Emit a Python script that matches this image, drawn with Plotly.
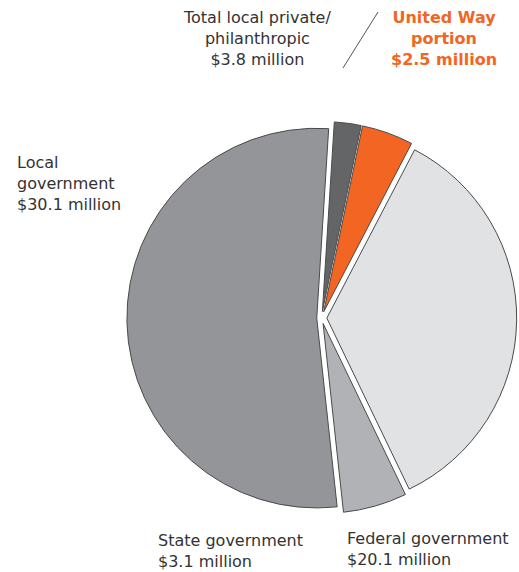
import plotly.graph_objects as go

# Funding sources, in millions of dollars, in clockwise order from 12 o'clock
sources = [
    "Other local private/philanthropic",
    "United Way portion",
    "Federal government",
    "State government",
    "Local government",
]
amounts = [1.3, 2.5, 20.1, 3.1, 30.1]
colors = ["#646567", "#f26522", "#e1e2e4", "#b1b2b5", "#949598"]
pulls = [0.035, 0.035, 0.028, 0.03, 0.025]

W, H = 519, 572


def px(x):
    return x / W


def py(y):
    return 1 - y / H


fig = go.Figure(
    go.Pie(
        labels=sources,
        values=amounts,
        sort=False,
        direction="clockwise",
        rotation=3.6,
        pull=pulls,
        marker=dict(colors=colors, line=dict(color="#4a4a4a", width=1)),
        textinfo="none",
        hoverinfo="label+value",
        showlegend=False,
        domain=dict(x=[px(125), px(518)], y=[py(514.5), py(121.5)]),
    )
)

text_font = dict(family="DejaVu Sans, Verdana, sans-serif", size=16, color="#333333")
orange_font = dict(family="DejaVu Sans, Verdana, sans-serif", size=16, color="#f26522")

annotations = [
    dict(text="Total local private/<br>philanthropic<br>$3.8 million",
         x=px(257), y=py(6), xanchor="center", yanchor="top", align="center",
         font=text_font),
    dict(text="<b>United Way<br>portion<br>$2.5 million</b>",
         x=px(444), y=py(6), xanchor="center", yanchor="top", align="center",
         font=orange_font),
    dict(text="Local<br>government<br>$30.1 million",
         x=px(15), y=py(151), xanchor="left", yanchor="top", align="left",
         font=text_font),
    dict(text="State government<br>$3.1 million",
         x=px(156), y=py(529), xanchor="left", yanchor="top", align="left",
         font=text_font),
    dict(text="Federal government<br>$20.1 million",
         x=px(345), y=py(527), xanchor="left", yanchor="top", align="left",
         font=text_font),
]
for a in annotations:
    a.update(xref="paper", yref="paper", showarrow=False)

fig.update_layout(
    width=W,
    height=H,
    margin=dict(l=0, r=0, t=0, b=0),
    paper_bgcolor="white",
    plot_bgcolor="white",
    annotations=annotations,
    shapes=[
        dict(type="line", xref="paper", yref="paper",
             x0=px(343), y0=py(68), x1=px(378), y1=py(12),
             line=dict(color="#555555", width=1)),
    ],
)

fig.write_html("out.html")
